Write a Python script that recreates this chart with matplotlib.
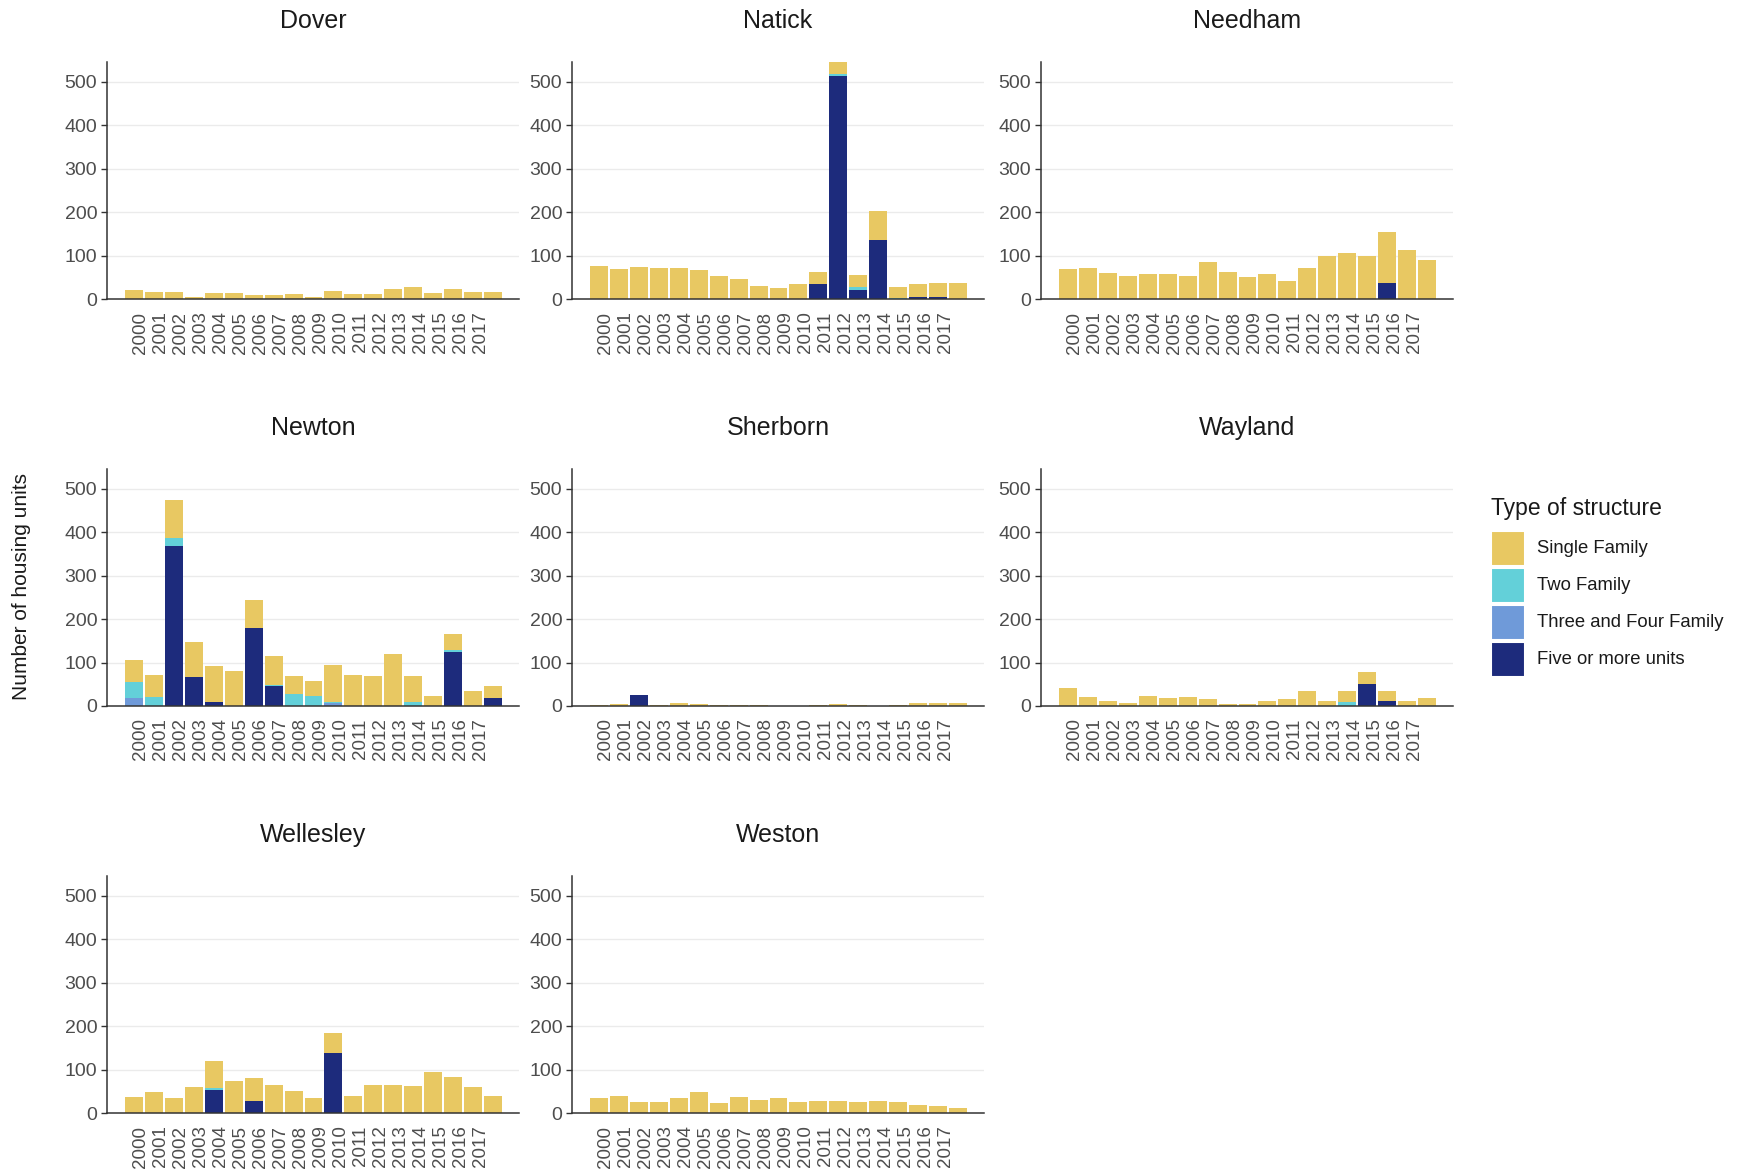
import matplotlib
matplotlib.use("Agg")
import matplotlib.pyplot as plt
import numpy as np
from matplotlib.patches import Rectangle

plt.rcParams['font.family'] = ['Liberation Sans', 'DejaVu Sans']

# ---- data -------------------------------------------------------------
YEARS = list(range(2000, 2019))
TICK_LABELS = [str(y) for y in range(2000, 2018)]
Y_TICKS = [0, 100, 200, 300, 400, 500]

STRUCTURE_TYPES = ["Single Family", "Two Family", "Three and Four Family", "Five or more units"]
COLORS = ["#E8C862", "#63D0D9", "#6F9AD9", "#1D2B7C"]

TOWNS = ["Dover", "Natick", "Needham", "Newton", "Sherborn", "Wayland", "Wellesley", "Weston"]

Z = [0] * 19

dover_single = [21, 17, 17, 5, 14, 13, 9, 10, 11, 5, 18, 12, 12, 24, 27, 13, 24, 17, 15]
dover_two = Z
dover_three_four = Z
dover_five = Z

natick_single = [77, 69, 73, 72, 72, 66, 54, 46, 31, 25, 35, 28, 26, 28, 66, 24, 30, 33, 38]
natick_two = [0, 0, 0, 0, 0, 0, 0, 0, 0, 0, 0, 0, 6, 7, 0, 3, 0, 0, 0]
natick_three_four = Z
natick_five = [0, 0, 0, 0, 0, 0, 0, 0, 0, 0, 0, 35, 513, 20, 137, 0, 5, 4, 0]

needham_single = [68, 71, 59, 54, 58, 58, 52, 85, 62, 50, 58, 42, 72, 100, 105, 98, 118, 112, 90]
needham_two = Z
needham_three_four = Z
needham_five = [0, 0, 0, 0, 0, 0, 0, 0, 0, 0, 0, 0, 0, 0, 0, 0, 37, 0, 0]

newton_single = [49, 52, 89, 81, 83, 80, 65, 67, 40, 35, 85, 72, 68, 120, 58, 22, 37, 35, 27]
newton_two = [38, 20, 18, 0, 0, 0, 0, 3, 28, 22, 4, 0, 0, 0, 10, 0, 3, 0, 0]
newton_three_four = [18, 0, 0, 0, 0, 0, 0, 0, 0, 0, 6, 0, 0, 0, 0, 0, 0, 0, 0]
newton_five = [0, 0, 368, 67, 10, 0, 180, 45, 0, 0, 0, 0, 0, 0, 0, 0, 125, 0, 18]

sherborn_single = [2, 5, 0, 3, 8, 5, 2, 3, 2, 1, 1, 2, 4, 3, 1, 2, 7, 8, 8]
sherborn_two = Z
sherborn_three_four = Z
sherborn_five = [0, 0, 25, 0, 0, 0, 0, 0, 0, 0, 0, 0, 0, 0, 0, 0, 0, 0, 0]

wayland_single = [42, 20, 12, 8, 22, 18, 20, 15, 5, 4, 12, 15, 35, 12, 25, 28, 23, 12, 18]
wayland_two = [0, 0, 0, 0, 0, 0, 0, 0, 0, 0, 0, 0, 0, 0, 10, 0, 0, 0, 0]
wayland_three_four = Z
wayland_five = [0, 0, 0, 0, 0, 0, 0, 0, 0, 0, 0, 0, 0, 0, 0, 50, 12, 0, 0]

wellesley_single = [37, 48, 35, 60, 63, 73, 53, 65, 50, 35, 47, 40, 65, 65, 63, 95, 82, 60, 40]
wellesley_two = [0, 0, 0, 0, 5, 0, 0, 0, 0, 0, 0, 0, 0, 0, 0, 0, 0, 0, 0]
wellesley_three_four = Z
wellesley_five = [0, 0, 0, 0, 52, 0, 27, 0, 0, 0, 138, 0, 0, 0, 0, 0, 0, 0, 0]

weston_single = [35, 40, 25, 25, 35, 48, 22, 38, 30, 35, 25, 28, 27, 25, 27, 25, 18, 15, 12]
weston_two = Z
weston_three_four = Z
weston_five = Z

town_series = {
    "Dover": (dover_single, dover_two, dover_three_four, dover_five),
    "Natick": (natick_single, natick_two, natick_three_four, natick_five),
    "Needham": (needham_single, needham_two, needham_three_four, needham_five),
    "Newton": (newton_single, newton_two, newton_three_four, newton_five),
    "Sherborn": (sherborn_single, sherborn_two, sherborn_three_four, sherborn_five),
    "Wayland": (wayland_single, wayland_two, wayland_three_four, wayland_five),
    "Wellesley": (wellesley_single, wellesley_two, wellesley_three_four, wellesley_five),
    "Weston": (weston_single, weston_two, weston_three_four, weston_five),
}

# ---- layout (pixels) ---------------------------------------------------
W, H = 1742, 1171
fig = plt.figure(figsize=(W / 100, H / 100), dpi=100)

col_left = [107, 572, 1041]
row_zero = [299, 706, 1113]
ax_w, ax_h = 412, 237
label_offset = 0.35  # year labels sit slightly right of their bars

axis_col = "#333333"
tick_col = "#4D4D4D"
text_col = "#1A1A1A"
x = np.arange(len(YEARS))

for k, town in enumerate(TOWNS):
    r, c = divmod(k, 3)
    left = col_left[c] / W
    bottom = 1 - row_zero[r] / H
    ax = fig.add_axes([left, bottom, ax_w / W, ax_h / H])

    single, two, three_four, five = (np.array(s, dtype=float) for s in town_series[town])
    # stacked from the bottom: five+, three/four, two, single family on top
    stack = [(five, COLORS[3]), (three_four, COLORS[2]), (two, COLORS[1]), (single, COLORS[0])]
    base = np.zeros(len(YEARS))
    for vals, col in stack:
        ax.bar(x, vals, bottom=base, width=0.9, color=col, linewidth=0, zorder=2)
        base = base + vals

    ax.set_xlim(-1.35, 19.3)
    ax.set_ylim(0, 546)
    ax.set_yticks(Y_TICKS)
    ax.set_yticklabels([str(t) for t in Y_TICKS], fontsize=14, color=tick_col)
    ax.set_xticks(x[:len(TICK_LABELS)] + label_offset)
    ax.set_xticklabels(TICK_LABELS, rotation=90, fontsize=13.5, color=tick_col)
    ax.tick_params(axis="x", length=0, pad=9)
    ax.tick_params(axis="y", length=4, width=1, color=axis_col, pad=3)

    for val in Y_TICKS[1:]:
        ax.axhline(val, color="#EBEBEB", linewidth=1.0, zorder=0)

    for side in ("top", "right"):
        ax.spines[side].set_visible(False)
    for side in ("left", "bottom"):
        ax.spines[side].set_color(axis_col)
        ax.spines[side].set_linewidth(1.1)
    ax.set_facecolor("white")

    ax.text(0.5, 1 + 41 / ax_h, town, transform=ax.transAxes, ha="center",
            va="center", fontsize=18, color=text_col)

fig.text(22 / W, 1 - 587 / H, "Number of housing units", rotation=90,
         ha="center", va="center", fontsize=15, color=text_col)

# ---- legend, laid out in figure pixels ---------------------------------
leg_left = 1491
fig.text(leg_left / W, 1 - 508 / H, "Type of structure", ha="left",
         va="center", fontsize=16.5, color=text_col)
key_top0, key_step, key_w, key_h = 531, 37, 34, 35
for i, (name, col) in enumerate(zip(STRUCTURE_TYPES, COLORS)):
    top = key_top0 + i * key_step
    fig.patches.append(Rectangle((leg_left / W, 1 - (top + key_h) / H), key_w / W, key_h / H,
                                 transform=fig.transFigure, facecolor=col,
                                 edgecolor="white", linewidth=1.5))
    fig.text(1537 / W, 1 - (top + key_h / 2) / H, name, ha="left", va="center",
             fontsize=13.3, color=text_col)

fig.savefig("out.png", dpi=100, facecolor="white")
